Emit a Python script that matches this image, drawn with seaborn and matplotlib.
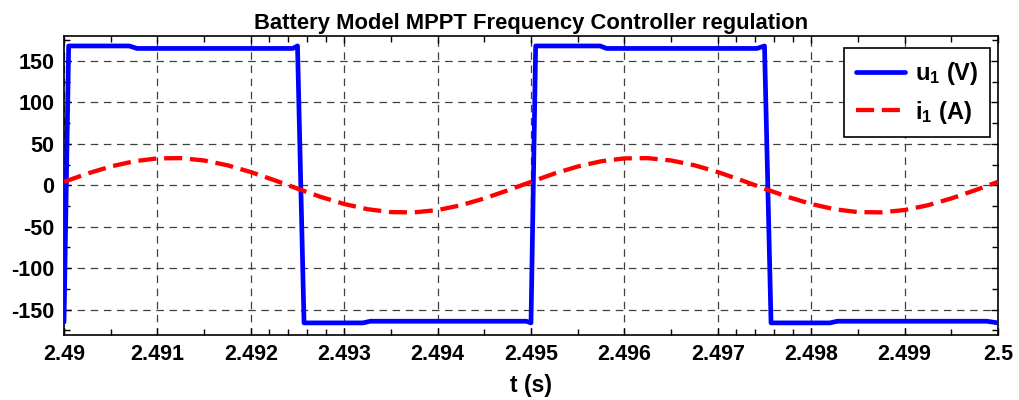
import numpy as np
import pandas as pd
import matplotlib
matplotlib.use("Agg")
import matplotlib.pyplot as plt
import seaborn as sns
from matplotlib.ticker import FixedLocator

# ---------------- data ----------------
u_t = [2.49000, 2.49005, 2.49070, 2.49078, 2.49245, 2.49250, 2.49257, 2.49320, 2.49328,
       2.49495, 2.49500, 2.49505, 2.49574, 2.49581, 2.49742, 2.49750, 2.49757, 2.49820,
       2.49828, 2.49988, 2.50000]
u_v = [-165, 168, 168, 165, 165, 168, -166, -166, -164,
       -164, -166, 168, 168, 165, 165, 168, -166, -166,
       -164, -164, -166]

i_t = [2.49 + k * 0.00025 for k in range(41)]
i_v = [4.1, 14.1, 22.6, 28.9, 32.4, 32.7, 29.9, 24.1, 15.9, 6.2,
       -4.1, -14.1, -22.6, -28.9, -32.4, -32.7, -29.9, -24.1, -15.9, -6.2,
       4.1, 14.1, 22.6, 28.9, 32.4, 32.7, 29.9, 24.1, 15.9, 6.2,
       -4.1, -14.1, -22.6, -28.9, -32.4, -32.7, -29.9, -24.1, -15.9, -6.2,
       4.1]

x_ticks = [2.49, 2.491, 2.492, 2.493, 2.494, 2.495, 2.496, 2.497, 2.498, 2.499, 2.5]
x_ticklabels = ["2.49", "2.491", "2.492", "2.493", "2.494", "2.495", "2.496", "2.497",
                "2.498", "2.499", "2.5"]
y_ticks = [-150, -100, -50, 0, 50, 100, 150]
y_ticklabels = ["-150", "-100", "-50", "0", "50", "100", "150"]

title = "Battery Model MPPT Frequency Controller regulation"
xlabel = "t (s)"
label_u = "u$_1$ (V)"
label_i = "i$_1$ (A)"

# ---------------- style ----------------
sns.set_theme(style="white")
plt.rcParams["font.family"] = ["Liberation Sans", "DejaVu Sans"]
plt.rcParams["font.weight"] = "bold"
plt.rcParams["axes.unicode_minus"] = False
plt.rcParams["text.color"] = "black"
plt.rcParams["axes.labelcolor"] = "black"
plt.rcParams["xtick.color"] = "black"
plt.rcParams["ytick.color"] = "black"
plt.rcParams["mathtext.fontset"] = "custom"
plt.rcParams["mathtext.rm"] = "Liberation Sans:bold"
plt.rcParams["mathtext.it"] = "Liberation Sans:bold"
plt.rcParams["mathtext.bf"] = "Liberation Sans:bold"

fig = plt.figure(figsize=(10.19, 4.0), dpi=100)
ax = fig.add_axes([64 / 1019, 1 - 334.5 / 400, (998 - 64) / 1019, (334.5 - 36) / 400])

df_u = pd.DataFrame({"t": u_t, "v": u_v})
df_i = pd.DataFrame({"t": i_t, "v": i_v})

sns.lineplot(data=df_u, x="t", y="v", ax=ax, color="#0000ff", lw=3.4,
             label=label_u, sort=False, zorder=3)
sns.lineplot(data=df_i, x="t", y="v", ax=ax, color="#ff0000", lw=3.1,
             linestyle=(0, (4.2, 1.8)), label=label_i, sort=False, zorder=3)

ax.set_xlim(2.49, 2.5)
ax.set_ylim(-180, 180)
ax.set_xticks(x_ticks)
ax.set_xticklabels(x_ticklabels)
ax.set_yticks(y_ticks)
ax.set_yticklabels(y_ticklabels)

minor_x = [2.4905, 2.4915] + [2.4922, 2.4924, 2.4926, 2.4928] + \
          [2.4935, 2.4945, 2.4955, 2.4965] + [2.4972, 2.4974, 2.4976, 2.4978] + \
          [2.4985, 2.4995]
ax.xaxis.set_minor_locator(FixedLocator(minor_x))
ax.yaxis.set_minor_locator(FixedLocator([-175, -125, -75, -25, 25, 75, 125, 175]))

ax.tick_params(axis="both", which="both", direction="in", top=True, right=True,
               bottom=True, left=True, color="black", width=1.0)
ax.tick_params(axis="both", which="major", length=5, labelsize=15.5, pad=7,
               labelcolor="black")
ax.tick_params(axis="both", which="minor", length=4)
for lab in ax.get_xticklabels() + ax.get_yticklabels():
    lab.set_fontweight("bold")

ax.grid(True, which="major", color="0.25", lw=0.9, linestyle=(0, (6, 4.5)))
for sp in ax.spines.values():
    sp.set_color("black")
    sp.set_linewidth(1.2)
    sp.set_visible(True)

ax.set_title(title, fontsize=15.8, fontweight="bold", pad=5, color="black")
ax.set_xlabel(xlabel, fontsize=16.5, fontweight="bold", labelpad=6, color="black")
ax.set_ylabel("")

leg = ax.legend(loc="upper right", bbox_to_anchor=((990 - 64) / 934, 1 - (48 - 36) / 298.5),
                borderaxespad=0, frameon=True, fancybox=False,
                handlelength=2.1, handletextpad=0.4, borderpad=0.5, labelspacing=0.5,
                prop={"weight": "bold", "size": 17})
leg.get_frame().set_edgecolor("black")
leg.get_frame().set_linewidth(1.2)
leg.get_frame().set_alpha(1.0)
for t in leg.get_texts():
    t.set_color("black")

fig.savefig("out.png", dpi=100)
